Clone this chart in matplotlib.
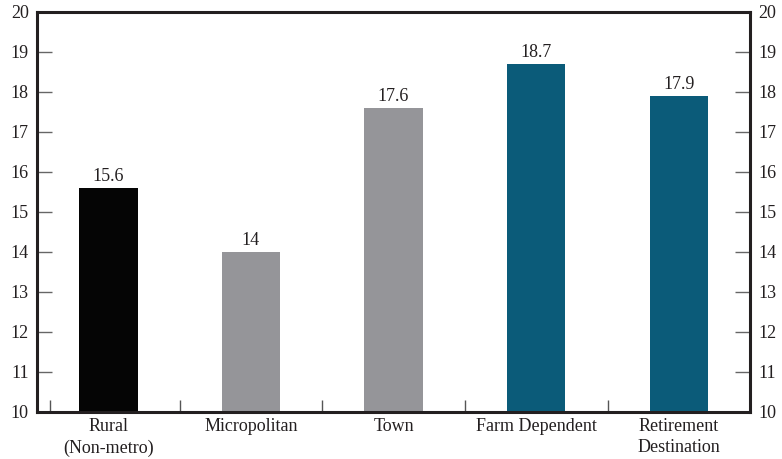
import matplotlib
matplotlib.use('Agg')
import matplotlib.pyplot as plt
from matplotlib.ticker import FixedLocator

categories = ['Rural\n(Non-metro)', 'Micropolitan', 'Town', 'Farm Dependent', 'Retirement\nDestination']
values = [15.6, 14, 17.6, 18.7, 17.9]
value_labels = ['15.6', '14', '17.6', '18.7', '17.9']
bar_colors = ['#050505', '#959599', '#959599', '#0b5b79', '#0b5b79']

plt.rcParams['font.family'] = ['Liberation Serif', 'DejaVu Serif']
FS = 13

fig = plt.figure(figsize=(7.82, 4.59), dpi=100)
ax = fig.add_axes([0.0473, 0.1024, 0.912, 0.872])

x = list(range(len(categories)))
bars = ax.bar(x, [v - 10 for v in values], bottom=10, width=0.41, color=bar_colors)
for b, lab in zip(bars, value_labels):
    ax.text(b.get_x() + b.get_width() / 2, b.get_y() + b.get_height() + 0.08, lab,
            ha='center', va='bottom', fontsize=FS, color='#231f20')

ax.set_xlim(-0.5, 4.5)
ax.set_ylim(10, 20)
ax.set_yticks(range(10, 21))
ax.set_xticks(x)
ax.set_xticklabels(categories, fontsize=FS, color='#231f20', linespacing=1.35)
ax.tick_params(axis='x', length=0, pad=4)
# small upward ticks between the category groups
ax.xaxis.set_minor_locator(FixedLocator([-0.41, 0.5, 1.5, 2.5, 3.5]))
ax.tick_params(axis='x', which='minor', direction='in', length=9, width=1, color='#555555')
ax.tick_params(axis='y', direction='in', length=11, width=1, color='#666666',
               labelsize=FS, labelcolor='#231f20', left=True, right=True,
               labelleft=True, labelright=True, pad=6)

for s in ax.spines.values():
    s.set_linewidth(2.2)
    s.set_color('#231f20')

fig.savefig('out.png', dpi=100)
